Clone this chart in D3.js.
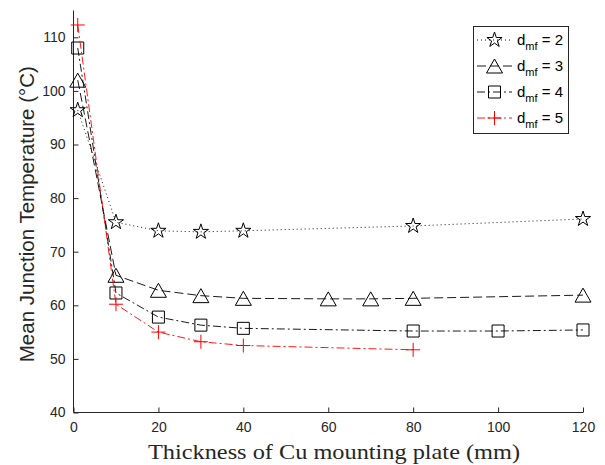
<!DOCTYPE html>
<html>
<head>
<meta charset="utf-8">
<script src="https://cdn.jsdelivr.net/npm/d3@7"></script>
<style>
  html, body { margin: 0; padding: 0; background: #fff; }
  svg { display: block; }
</style>
</head>
<body>
<svg id="chart" width="605" height="465"></svg>
<script>
// Mean junction temperature vs. Cu mounting plate thickness for several d_mf values
const xTicks = [0, 20, 40, 60, 80, 100, 120];
const yTicks = [40, 50, 60, 70, 80, 90, 100, 110];

const x2 = [1, 10, 20, 30, 40, 80, 120];
const y2 = [96.4, 75.5, 73.9, 73.7, 73.9, 74.8, 76.1];

const x3 = [1, 10, 20, 30, 40, 60, 70, 80, 120];
const y3 = [102.0, 65.6, 62.8, 61.8, 61.3, 61.2, 61.2, 61.3, 61.9];

const x4 = [1, 10, 20, 30, 40, 80, 100, 120];
const y4 = [108.0, 62.3, 57.8, 56.3, 55.7, 55.2, 55.2, 55.4];

const x5 = [1, 10, 20, 30, 40, 80];
const y5 = [112.3, 60.2, 55.0, 53.2, 52.5, 51.7];

const seriesNames = ["2", "3", "4", "5"];

const svg = d3.select("#chart");
const axisColor = "#262626";

const xScale = d3.scaleLinear().domain([0, 120]).range([73.5, 583]);
const yScale = d3.scaleLinear().domain([40, 115]).range([412.5, 10.5]);

// Marker shapes (drawn unfilled, centred on the data point)
function starPath(r) {
  const ri = r * 0.382;
  const pts = [];
  for (let i = 0; i < 10; i++) {
    const a = -Math.PI / 2 + i * Math.PI / 5;
    const rr = i % 2 === 0 ? r : ri;
    pts.push([rr * Math.cos(a), rr * Math.sin(a)]);
  }
  return "M" + pts.map(p => p.join(",")).join("L") + "Z";
}
const markers = {
  star: starPath(8),
  triangle: "M0,-7L8,7L-8,7Z",
  square: "M-6,-6L6,-6L6,6L-6,6Z",
  plus: "M-7,0L7,0M0,-7L0,7"
};

const series = [
  { xs: x2, ys: y2, color: "#000", dash: "1,3", marker: "star" },
  { xs: x3, ys: y3, color: "#000", dash: "9,4", marker: "triangle" },
  { xs: x4, ys: y4, color: "#000", dash: "8,3,2,3", marker: "square" },
  { xs: x5, ys: y5, color: "#ff0000", dash: "8,3,2,3", marker: "plus" }
];

// Axes (MATLAB style: ticks pointing inward, no box)
const xAxis = d3.axisBottom(xScale).tickValues(xTicks).tickSizeInner(-5).tickSizeOuter(0).tickPadding(8);
const yAxis = d3.axisLeft(yScale).tickValues(yTicks).tickSizeInner(-5).tickSizeOuter(0).tickPadding(8);

const gx = svg.append("g").attr("transform", `translate(0,${yScale(40)})`).call(xAxis);
const gy = svg.append("g").attr("transform", `translate(${xScale(0)},0)`).call(yAxis);

[gx, gy].forEach(g => {
  g.select(".domain").attr("stroke", axisColor).attr("stroke-width", 1);
  g.selectAll(".tick line").attr("stroke", axisColor).attr("stroke-width", 1);
  g.selectAll(".tick text")
    .attr("fill", axisColor)
    .style("font-family", "Liberation Sans, Arial, sans-serif")
    .style("font-size", "14px");
});
gx.selectAll(".tick text").attr("dy", "0.85em");
// The y-axis line reaches the top of the domain
gy.select(".domain").attr("d", `M0,${yScale(115)}V${yScale(40)}`);
gx.select(".domain").attr("d", `M${xScale(0)},0H${xScale(120)}`);

// Series lines and markers
const line = d3.line().x(d => xScale(d[0])).y(d => yScale(d[1]));
series.forEach(s => {
  const pts = s.xs.map((v, i) => [v, s.ys[i]]);
  svg.append("path")
    .datum(pts)
    .attr("d", line)
    .attr("fill", "none")
    .attr("stroke", s.color)
    .attr("stroke-width", 0.9)
    .attr("stroke-dasharray", s.dash);
  svg.append("g").selectAll("path")
    .data(pts)
    .join("path")
    .attr("transform", d => `translate(${xScale(d[0])},${yScale(d[1])})`)
    .attr("d", markers[s.marker])
    .attr("fill", "none")
    .attr("stroke", s.color)
    .attr("stroke-width", 1);
});

// Axis titles
svg.append("text")
  .attr("x", 334)
  .attr("y", 459)
  .attr("text-anchor", "middle")
  .attr("fill", axisColor)
  .style("font-family", "Liberation Serif, Times New Roman, serif")
  .style("font-size", "22px")
  .attr("textLength", 372)
  .attr("lengthAdjust", "spacingAndGlyphs")
  .text("Thickness of Cu mounting plate (mm)");

svg.append("text")
  .attr("transform", `translate(34,${yScale(77)}) rotate(-90)`)
  .attr("text-anchor", "middle")
  .attr("fill", axisColor)
  .style("font-family", "Liberation Sans, Arial, sans-serif")
  .style("font-size", "20.5px")
  .text("Mean Junction Temperature (°C)");

// Legend
const legend = svg.append("g");
legend.append("rect")
  .attr("x", 473.5).attr("y", 26.5)
  .attr("width", 95).attr("height", 107)
  .attr("fill", "#fff")
  .attr("stroke", axisColor)
  .attr("stroke-width", 1);

series.forEach((s, i) => {
  const yy = 40 + i * 26;
  const row = legend.append("g").attr("transform", `translate(0,${yy})`);
  row.append("line")
    .attr("x1", 477).attr("x2", 512)
    .attr("y1", 0).attr("y2", 0)
    .attr("stroke", s.color)
    .attr("stroke-width", 0.9)
    .attr("stroke-dasharray", s.dash);
  row.append("path")
    .attr("transform", "translate(494.5,0)")
    .attr("d", markers[s.marker])
    .attr("fill", "none")
    .attr("stroke", s.color)
    .attr("stroke-width", 1);
  const t = row.append("text")
    .attr("x", 517).attr("y", 5)
    .attr("fill", "#000")
    .style("font-family", "Liberation Sans, Arial, sans-serif")
    .style("font-size", "15px");
  t.append("tspan").text("d");
  t.append("tspan").attr("dy", 5).style("font-size", "11px").text("mf");
  t.append("tspan").attr("dy", -5).text(" = " + seriesNames[i]);
});
</script>
</body>
</html>
